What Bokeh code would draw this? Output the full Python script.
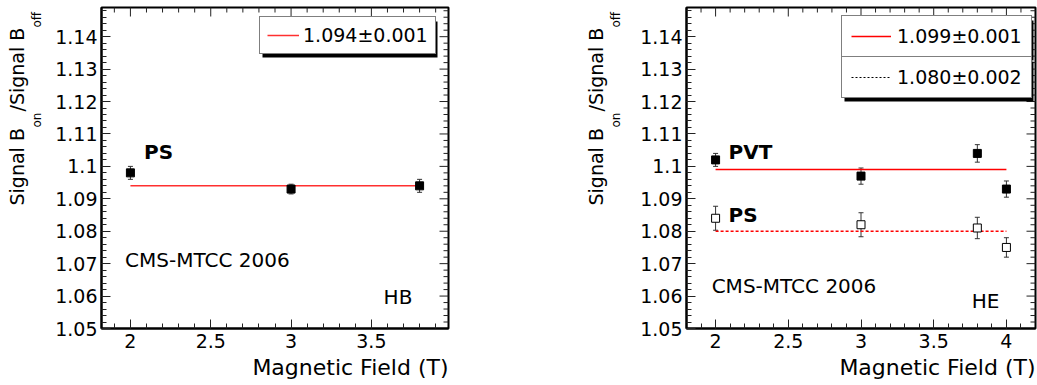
import numpy as np
from bokeh.plotting import figure
from bokeh.layouts import row
from bokeh.models import (Range1d, FixedTicker, CustomJSTickFormatter, Title,
                          ColumnDataSource, Whisker, TeeHead, Label, Legend,
                          LegendItem, BoxAnnotation)
from bokeh.embed import file_html
from bokeh.resources import INLINE

# ---------------- data ----------------
hb_field = [2.0, 3.0, 3.8]
hb_ps_ratio = [1.098, 1.093, 1.094]
hb_ps_err = [0.002, 0.0015, 0.002]
hb_ps_fit = 1.094
hb_ps_fit_label = "1.094±0.001"

he_field = [2.0, 3.0, 3.8, 4.0]
he_pvt_ratio = [1.102, 1.097, 1.104, 1.093]
he_pvt_err = [0.002, 0.0025, 0.0027, 0.0025]
he_ps_ratio = [1.084, 1.082, 1.081, 1.075]
he_ps_err = [0.0037, 0.0037, 0.0033, 0.003]
he_pvt_fit = 1.099
he_pvt_fit_label = "1.099±0.001"
he_ps_fit = 1.080
he_ps_fit_label = "1.080±0.002"

y_ticks = [1.05, 1.06, 1.07, 1.08, 1.09, 1.10, 1.11, 1.12, 1.13, 1.14]
hb_x_ticks = [2.0, 2.5, 3.0, 3.5]
he_x_ticks = [2.0, 2.5, 3.0, 3.5, 4.0]
x_title = "Magnetic Field (T)"
y_title_parts = ["Signal B", "on", "/Signal B", "off"]
experiment = "CMS-MTCC 2006"

FONT = "DejaVu Sans"
Y0, Y1 = 1.05, 1.149
H = 385
BT, BB = 7, 57    # top / bottom borders of every frame

fmt_code = """
var s = tick.toFixed(2);
s = s.replace(/0+$/, '').replace(/\\.$/, '');
return s;
"""


def style_axis(ax, major, minor, standoff):
    ax.ticker = FixedTicker(ticks=major, minor_ticks=minor)
    ax.formatter = CustomJSTickFormatter(code=fmt_code)
    ax.axis_line_width = 2
    ax.axis_line_color = "black"
    ax.major_tick_in = 9
    ax.major_tick_out = 0
    ax.minor_tick_in = 5
    ax.minor_tick_out = 0
    ax.major_tick_line_color = "#222222"
    ax.minor_tick_line_color = "#222222"
    ax.major_label_text_font = FONT
    ax.major_label_text_color = "black"
    ax.major_label_text_font_size = "19px"
    ax.major_label_standoff = standoff


def make_panel(width, bl, br, x0, x1, xticks):
    p = figure(width=width, height=H, x_range=Range1d(x0, x1),
               y_range=Range1d(Y0, Y1), output_backend="svg",
               toolbar_location=None, min_border_left=bl, min_border_right=br,
               min_border_top=BT, min_border_bottom=BB)
    p.outline_line_color = "black"
    p.outline_line_width = 2
    p.xgrid.visible = False
    p.ygrid.visible = False
    xminor = [round(v, 3) for v in np.arange(1.8, 4.21, 0.1) if x0 <= v <= x1]
    yminor = [round(v, 4) for v in np.arange(1.05, 1.1495, 0.002)]
    style_axis(p.xaxis[0], xticks, xminor, 5)
    style_axis(p.yaxis[0], y_ticks, yminor, 4)
    # x title: right-aligned under the axis, as in ROOT
    p.add_layout(Title(text=x_title, align="right", text_font=FONT,
                       text_font_size="22px", text_font_style="normal",
                       text_color="black", standoff=4, offset=0), "below")
    # ticks on the top and right frame edges (half of each dash is clipped)
    xminor_only = [v for v in xminor if all(abs(v - t) > 1e-6 for t in xticks)]
    yminor_only = [v for v in yminor if all(abs(v - t) > 1e-6 for t in y_ticks)]
    p.scatter(xticks, [Y1] * len(xticks), marker="dash", angle=np.pi / 2,
              size=18, line_color="#222222", line_width=1)
    p.scatter(xminor_only, [Y1] * len(xminor_only), marker="dash", angle=np.pi / 2,
              size=10, line_color="#222222", line_width=1)
    p.scatter([x1] * len(y_ticks), y_ticks, marker="dash",
              size=18, line_color="#222222", line_width=1)
    p.scatter([x1] * len(yminor_only), yminor_only, marker="dash",
              size=10, line_color="#222222", line_width=1)
    return p


def ytitle_strip(width, bx, y0):
    # same top/bottom borders as the plot, so its frame lines up with it
    f = figure(width=width, height=H, x_range=Range1d(0, 1),
               y_range=Range1d(0, 1), output_backend="svg", toolbar_location=None,
               x_axis_location=None, y_axis_location=None,
               min_border_left=0, min_border_right=0, min_border_top=BT,
               min_border_bottom=BB)
    f.outline_line_color = None
    f.xgrid.visible = False
    f.ygrid.visible = False
    sizes = ["19px", "12px", "19px", "12px"]
    dxs = [0, 20, 0, 20]
    dys = [0, 78, 94, 178]
    for txt, dx, dy, fs in zip(y_title_parts, dxs, dys, sizes):
        f.add_layout(Label(x=bx + dx, y=y0 + dy, x_units="screen", y_units="screen",
                           text=txt, angle=np.pi / 2, text_font=FONT,
                           text_font_size=fs, text_align="left",
                           text_baseline="alphabetic", text_color="black"))
    return f


def add_text(p, x, y, txt, bold=False):
    p.add_layout(Label(x=x, y=y, text=txt, text_font=FONT, text_font_size="20px",
                       text_font_style="bold" if bold else "normal",
                       text_align="left", text_baseline="alphabetic",
                       text_color="black"))


def add_legend(p, renderer, txt, left, bottom, w, h, gw, st, pad):
    p.add_layout(BoxAnnotation(left=left + 3, right=left + w + 3,
                               bottom=bottom - 3, top=bottom + h - 3,
                               left_units="screen", right_units="screen",
                               top_units="screen", bottom_units="screen",
                               fill_color="black", fill_alpha=1, line_color=None))
    leg = Legend(items=[LegendItem(label=txt, renderers=[renderer])],
                 location=(left, bottom), border_line_color="black",
                 border_line_width=1, background_fill_color="white",
                 background_fill_alpha=1, label_text_font=FONT,
                 label_text_font_size="19px", label_text_color="black",
                 glyph_width=gw, glyph_height=20, label_height=20,
                 label_standoff=st, padding=pad, margin=0, spacing=0)
    p.add_layout(leg)


def add_points(p, xs, ys, es, filled):
    src = ColumnDataSource(dict(x=xs, y=ys,
                                lo=[a - b for a, b in zip(ys, es)],
                                hi=[a + b for a, b in zip(ys, es)]))
    w = Whisker(source=src, base="x", lower="lo", upper="hi", dimension="height",
                line_color="#333333", line_width=1, level="underlay",
                upper_head=TeeHead(size=5, line_color="#333333", line_width=1),
                lower_head=TeeHead(size=5, line_color="#333333", line_width=1))
    p.add_layout(w)
    p.scatter("x", "y", source=src, marker="square", size=8,
              fill_color="black" if filled else "white", line_color="black",
              line_width=1)


# y title start: canvas y 205 -> 328 - 205 = 123 above the frame bottom
# ---------------- HB panel (canvas x 0..520) ----------------
S1 = 48
p1 = make_panel(520 - S1, 101 - S1, 72, 1.82, 3.98, hb_x_ticks)
fit1 = p1.line([min(hb_field), max(hb_field)], [hb_ps_fit, hb_ps_fit],
               line_color="#ff3030", line_width=1.5)
add_points(p1, hb_field, hb_ps_ratio, hb_ps_err, True)
add_text(p1, 2.085, 1.1043, "PS", bold=True)
add_text(p1, 1.967, 1.071, experiment)
add_text(p1, 3.576, 1.0596, "HB")
add_legend(p1, fit1, hb_ps_fit_label, 158, 274, 175, 36, 32, 4, 7)

# ---------------- HE panel (canvas x 520..1037) ----------------
S2 = 110
p2 = make_panel(517 - S2, 166 - S2, 2, 1.8, 4.2, he_x_ticks)
fit2 = p2.line([min(he_field), max(he_field)], [he_pvt_fit, he_pvt_fit],
               line_color="red", line_width=1.5)
fit3 = p2.line([min(he_field), max(he_field)], [he_ps_fit, he_ps_fit],
               line_color="red", line_width=1.5, line_dash="3 2")
# legend-only sample (black dotted), nothing is drawn in the frame
leg_ps = p2.line([min(he_field), max(he_field)], [np.nan, np.nan],
                 line_color="black", line_width=1, line_dash="2 2")
add_points(p2, he_field, he_pvt_ratio, he_pvt_err, True)
add_points(p2, he_field, he_ps_ratio, he_ps_err, False)
add_text(p2, 2.089, 1.1043, "PVT", bold=True)
add_text(p2, 2.089, 1.0851, "PS", bold=True)
add_text(p2, 1.973, 1.063, experiment)
add_text(p2, 3.761, 1.0586, "HE")
add_legend(p2, fit2, he_pvt_fit_label, 155, 271, 189, 40, 40, 6, 9)
add_legend(p2, leg_ps, he_ps_fit_label, 155, 230, 189, 40, 40, 6, 9)

layout = row(ytitle_strip(S1, 16, 123), p1, ytitle_strip(S2, 75, 123), p2)
open("out.html", "w").write(file_html(layout, INLINE))
